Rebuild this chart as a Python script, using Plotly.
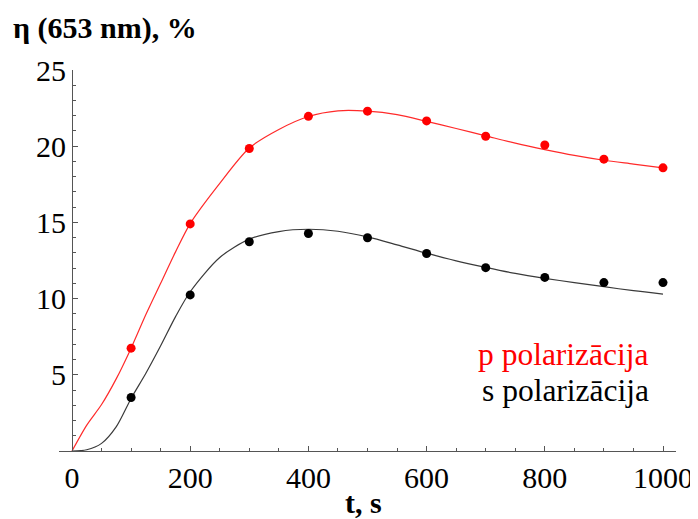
import plotly.graph_objects as go

# measured points
t_meas = [100, 200, 300, 400, 500, 600, 700, 800, 900, 1000]
p_meas = [6.75, 14.9, 19.85, 21.96, 22.3, 21.66, 20.65, 20.08, 19.15, 18.58]
s_meas = [3.51, 10.24, 13.73, 14.27, 13.99, 12.96, 12.03, 11.39, 11.05, 11.05]

# fitted curves
t_fit = [0, 25, 50, 75, 100, 125, 150, 175, 200, 250, 300, 350, 400, 450, 500,
         550, 600, 650, 700, 750, 800, 850, 900, 950, 1000]
p_fit = [0, 1.7, 3.05, 4.75, 6.75, 8.95, 11.0, 13.05, 14.92, 17.56, 19.88, 21.1,
         21.95, 22.32, 22.3, 22.07, 21.63, 21.16, 20.68, 20.2, 19.78, 19.4, 19.08,
         18.83, 18.58]
s_fit = [0, 0.08, 0.5, 1.6, 3.45, 5.1, 6.9, 8.8, 10.45, 12.7, 13.9, 14.4, 14.55,
         14.42, 14.05, 13.53, 12.98, 12.48, 12.05, 11.65, 11.33, 11.05, 10.78,
         10.52, 10.3]

serif = "Times New Roman, Liberation Serif, DejaVu Serif, serif"
axcol = "#555555"

fig = go.Figure()
fig.add_trace(go.Scatter(x=t_fit, y=p_fit, mode="lines",
                         line=dict(color="#ff2a2a", width=1.2, shape="spline", smoothing=0.8),
                         cliponaxis=False, showlegend=False))
fig.add_trace(go.Scatter(x=t_fit, y=s_fit, mode="lines",
                         line=dict(color="#3a3a3a", width=1.2, shape="spline", smoothing=0.8),
                         cliponaxis=False, showlegend=False))
fig.add_trace(go.Scatter(x=t_meas, y=p_meas, mode="markers", marker=dict(color="#ff0000", size=9),
                         cliponaxis=False, showlegend=False))
fig.add_trace(go.Scatter(x=t_meas, y=s_meas, mode="markers", marker=dict(color="#000000", size=9),
                         cliponaxis=False, showlegend=False))

# page has an 8px body margin, so the figure is a bit smaller than the window
fig.update_layout(
    width=690, height=511,
    margin=dict(l=51, r=22, t=62, b=68, autoexpand=False),
    plot_bgcolor="white", paper_bgcolor="white",
    font=dict(family=serif, color="black"),
    xaxis=dict(range=[-22, 1022], showgrid=False, zeroline=False, automargin=False,
               showline=True, linecolor=axcol, linewidth=1,
               tickvals=[0, 200, 400, 600, 800, 1000], ticks="inside", ticklen=5,
               tickcolor=axcol, tickfont=dict(size=30, family=serif),
               minor=dict(dtick=50, tick0=0, ticks="inside", ticklen=3, tickcolor=axcol)),
    yaxis=dict(range=[0, 25], showgrid=False, zeroline=False, automargin=False,
               anchor="free", position=13 / 617,
               showline=True, linecolor=axcol, linewidth=1,
               tickvals=[5, 10, 15, 20, 25], ticks="inside", ticklen=5,
               tickcolor=axcol, tickfont=dict(size=30, family=serif),
               minor=dict(dtick=1, tick0=0, ticks="inside", ticklen=3, tickcolor=axcol)),
)

fig.add_annotation(text="<b>η (653 nm), %</b>", xref="paper", yref="paper",
                   x=-0.077, y=1.16, xanchor="left", yanchor="top",
                   showarrow=False, font=dict(size=30, family=serif))
fig.add_annotation(text="<b>t, s</b>", xref="paper", yref="paper",
                   x=0.494, y=-0.136, xanchor="center", yanchor="middle",
                   showarrow=False, font=dict(size=30, family=serif))
fig.add_annotation(text="p polarizācija", xref="paper", yref="paper",
                   x=0.818, y=0.254, xanchor="center", yanchor="middle",
                   showarrow=False, font=dict(size=31.5, family=serif, color="#ff0000"))
fig.add_annotation(text="s polarizācija", xref="paper", yref="paper",
                   x=0.821, y=0.158, xanchor="center", yanchor="middle",
                   showarrow=False, font=dict(size=31.5, family=serif, color="black"))

fig.write_html("out.html")
